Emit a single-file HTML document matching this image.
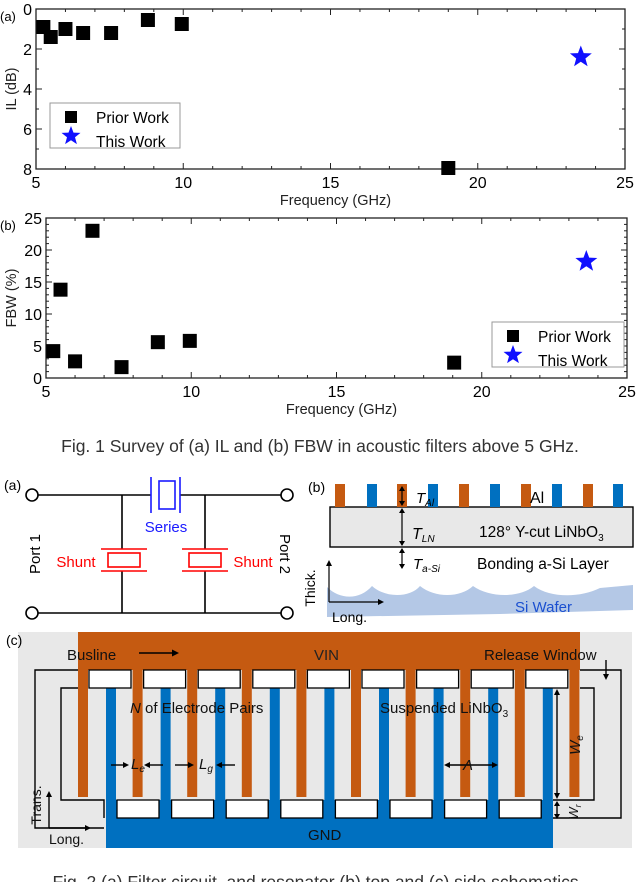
<!DOCTYPE html>
<html><head><meta charset="utf-8"><style>
html,body{margin:0;padding:0;background:#fff;}
body{width:640px;height:882px;overflow:hidden;position:relative;font-family:"Liberation Sans",sans-serif;}
svg{position:absolute;left:0;top:0;}
text{font-family:"Liberation Sans",sans-serif;}
</style></head><body>
<svg id="fig" width="640" height="882" viewBox="0 0 640 882" xmlns="http://www.w3.org/2000/svg">
<g id="chartA"></g>
<g id="chartB"></g>
<text x="320" y="452" font-size="17.5" text-anchor="middle" fill="#333">Fig. 1 Survey of (a) IL and (b) FBW in acoustic filters above 5 GHz.</text>

<!-- Circuit (a) -->
<g stroke="#000" stroke-width="1.6" fill="none">
<text x="4" y="490" font-size="14" fill="#000" stroke="none">(a)</text>
<line x1="38" y1="495" x2="151" y2="495"/><line x1="180" y1="495" x2="281" y2="495"/>
<line x1="38" y1="613" x2="281" y2="613"/>
<circle cx="32" cy="495" r="6" fill="#fff"/><circle cx="287" cy="495" r="6" fill="#fff"/>
<circle cx="32" cy="613" r="6" fill="#fff"/><circle cx="287" cy="613" r="6" fill="#fff"/>
<line x1="122" y1="495" x2="122" y2="549"/><line x1="122" y1="571" x2="122" y2="613"/>
<line x1="205" y1="495" x2="205" y2="549"/><line x1="205" y1="571" x2="205" y2="613"/>
<g stroke="#1a1aff">
<line x1="151" y1="477" x2="151" y2="513"/><line x1="180" y1="477" x2="180" y2="513"/>
<rect x="159" y="481" width="16" height="28"/></g>
<g stroke="#f00">
<line x1="101" y1="549" x2="147" y2="549"/><line x1="101" y1="571" x2="147" y2="571"/><rect x="108" y="553" width="32" height="14"/>
<line x1="182" y1="549" x2="228" y2="549"/><line x1="182" y1="571" x2="228" y2="571"/><rect x="189" y="553" width="32" height="14"/></g>
<text x="166" y="532" font-size="15" fill="#1a1aff" stroke="none" text-anchor="middle">Series</text>
<text x="76" y="567" font-size="15" fill="#f00" stroke="none" text-anchor="middle">Shunt</text>
<text x="253" y="567" font-size="15" fill="#f00" stroke="none" text-anchor="middle">Shunt</text>
<text transform="translate(40,554) rotate(-90)" font-size="15" fill="#000" stroke="none" text-anchor="middle">Port 1</text>
<text transform="translate(280,554) rotate(90)" font-size="15" fill="#000" stroke="none" text-anchor="middle">Port 2</text>
</g>

<!-- Cross-section (b) -->
<g>
<text x="308" y="492" font-size="14">(b)</text>
<path d="M327,587 C340,600 360,600 372,586 C385,598 410,598 420,586 C435,598 460,598 473,586 C490,598 520,598 534,586 C550,598 580,598 600,588 L633,585 L633,610 L500,614 L327,617 Z" fill="#b4c8e6"/>
<rect x="330" y="507" width="303" height="40" fill="#e8e8e8" stroke="#000" stroke-width="1.4"/>
<g id="elecs"></g>
<g stroke="#000" stroke-width="1.2" fill="none">
<line x1="402" y1="487" x2="402" y2="505"/><line x1="402" y1="509" x2="402" y2="545"/><line x1="402" y1="549" x2="402" y2="568"/>
<line x1="329" y1="602" x2="329" y2="562"/><line x1="329" y1="602" x2="381" y2="602"/>
</g>
<g fill="#000"><path d="M402,486 l-3,5 h6z"/><path d="M402,506 l-3,-5 h6z"/><path d="M402,508 l-3,5 h6z"/><path d="M402,546 l-3,-5 h6z"/><path d="M402,548 l-3,5 h6z"/><path d="M402,569 l-3,-5 h6z"/><path d="M329,560 l-3,6 h6z"/><path d="M384,602 l-6,-3 v6z"/></g>
<text x="416" y="503" font-size="15" font-style="italic">T<tspan font-size="10" dy="3">Al</tspan></text>
<text x="530" y="503" font-size="16">Al</text>
<text x="412" y="539" font-size="16" font-style="italic">T<tspan font-size="10" dy="3">LN</tspan></text>
<text x="479" y="537" font-size="15.5">128° Y-cut LiNbO<tspan font-size="10" dy="4">3</tspan></text>
<text x="413" y="569" font-size="15" font-style="italic">T<tspan font-size="10" dy="3">a-Si</tspan></text>
<text x="477" y="569" font-size="15.5">Bonding a-Si Layer</text>
<text transform="translate(315,588) rotate(-90)" font-size="14" text-anchor="middle">Thick.</text>
<text x="332" y="622" font-size="14">Long.</text>
<text x="515" y="612" font-size="15" fill="#1a4fd0">Si Wafer</text>
</g>

<!-- Resonator (c) -->
<g>
<rect x="18" y="632" width="614" height="216" fill="#e8e8e8"/>
<text x="6" y="645" font-size="14">(c)</text>
<rect x="78" y="632" width="502" height="38" fill="#c55a11"/>
<rect x="106" y="800" width="447" height="48" fill="#0070c0"/>
<g id="fingers"></g>
<g id="windows"></g>
<g stroke="#000" stroke-width="1.4" fill="none">
<path d="M78,670 H35 V828 H104"/><path d="M78,688 H61 V800 H104 V818"/>
<path d="M580,670 H621 V818 H553"/><path d="M580,688 H594 V800 H553"/>
<line x1="606" y1="660" x2="606" y2="676"/>
<line x1="139" y1="653" x2="173" y2="653"/>
<line x1="111" y1="765" x2="125" y2="765"/><line x1="148" y1="765" x2="163" y2="765"/>
<line x1="175" y1="765" x2="190" y2="765"/><line x1="220" y1="765" x2="235" y2="765"/>
<line x1="446" y1="765" x2="496" y2="765"/>
<line x1="557" y1="691" x2="557" y2="797"/><line x1="557" y1="803" x2="557" y2="817"/>
<line x1="49" y1="828" x2="49" y2="795"/><line x1="49" y1="828" x2="87" y2="828"/>
</g>
<g fill="#000"><path d="M606,680 l-3,-6 h6z"/><path d="M179,653 l-7,-3.5 v7z"/>
<path d="M129,765 l-6,-3 v6z"/><path d="M144,765 l6,-3 v6z"/><path d="M194,765 l-6,-3 v6z"/><path d="M216,765 l6,-3 v6z"/>
<path d="M444,765 l6,-3 v6z"/><path d="M498,765 l-6,-3 v6z"/>
<path d="M557,689 l-3,6 h6z"/><path d="M557,799 l-3,-6 h6z"/><path d="M557,801 l-3,5 h6z"/><path d="M557,819 l-3,-5 h6z"/>
<path d="M49,791 l-3,6 h6z"/><path d="M91,828 l-6,-3 v6z"/></g>
<g font-size="15" fill="#111">
<text x="67" y="660">Busline</text>
<text x="314" y="660" fill="#222">VIN</text>
<text x="484" y="660">Release Window</text>
<text x="130" y="713"><tspan font-style="italic">N</tspan> of Electrode Pairs</text>
<text x="380" y="713">Suspended LiNbO<tspan font-size="10" dy="4">3</tspan></text>
<text x="131" y="769" font-style="italic">L<tspan font-size="10" dy="3">e</tspan></text>
<text x="199" y="769" font-style="italic">L<tspan font-size="10" dy="3">g</tspan></text>
<text x="463" y="770" font-style="italic">Λ</text>
<text transform="translate(580,745) rotate(-90)" font-style="italic" text-anchor="middle">W<tspan font-size="10" dy="3">e</tspan></text>
<text transform="translate(578,812) rotate(-90)" font-size="13" font-style="italic" text-anchor="middle">W<tspan font-size="9" dy="3">r</tspan></text>
<text transform="translate(41,805) rotate(-90)" font-size="14" text-anchor="middle">Trans.</text>
<text x="49" y="844" font-size="14">Long.</text>
<text x="308" y="840">GND</text>
</g>
</g>
<text x="318" y="888" font-size="17.5" text-anchor="middle" fill="#333">Fig. 2 (a) Filter circuit, and resonator (b) top and (c) side schematics.</text>
</svg>
<script>
// ---- chart data ----
const ilPriorFreq = [5.25, 5.5, 6.0, 6.6, 7.55, 8.8, 9.95, 19.0];
const ilPriorVal = [0.9, 1.4, 1.0, 1.2, 1.2, 0.55, 0.75, 7.95];
const ilThisFreq = [23.5];
const ilThisVal = [2.4];
const ilTicks = [0, 2, 4, 6, 8];
const fbwPriorFreq = [5.25, 5.5, 6.6, 6.0, 7.6, 8.85, 9.95, 19.05];
const fbwPriorVal = [4.2, 13.8, 23.0, 2.6, 1.7, 5.6, 5.8, 2.4];
const fbwThisFreq = [23.6];
const fbwThisVal = [18.2];
const fbwTicks = [0, 5, 10, 15, 20, 25];
const freqTicks = [5, 10, 15, 20, 25];
const legendLabels = ["Prior Work", "This Work"];

const NS = "http://www.w3.org/2000/svg";
function mk(tag, attrs, parent) { const e = document.createElementNS(NS, tag); for (const k in attrs) e.setAttribute(k, attrs[k]); parent.appendChild(e); return e; }
function starPath(cx, cy, R) { const r = R * 0.42; let d = ""; for (let i = 0; i < 10; i++) { const a = -Math.PI / 2 + i * Math.PI / 5; const rr = i % 2 ? r : R; d += (i ? "L" : "M") + (cx + rr * Math.cos(a)).toFixed(1) + "," + (cy + rr * Math.sin(a)).toFixed(1); } return d + "Z"; }

function drawChart(g, o) {
  const sx = v => o.x0 + (v - 5) / 20 * (o.x1 - o.x0);
  const sy = v => o.inv ? o.y0 + (v - o.ymin) / (o.ymax - o.ymin) * (o.y1 - o.y0) : o.y1 - (v - o.ymin) / (o.ymax - o.ymin) * (o.y1 - o.y0);
  mk("rect", { x: o.x0, y: o.y0, width: o.x1 - o.x0, height: o.y1 - o.y0, fill: "none", stroke: "#222", "stroke-width": 1.3 }, g);
  for (let f = 5; f <= 25; f++) { const x = sx(f); const L = f % 5 === 0 ? 6 : 3;
    mk("line", { x1: x, y1: o.y1, x2: x, y2: o.y1 - L, stroke: "#222" }, g); mk("line", { x1: x, y1: o.y0, x2: x, y2: o.y0 + L, stroke: "#222" }, g); }
  freqTicks.forEach(t => { const e = mk("text", { x: sx(t), y: o.y1 + 19, "font-size": 16, "text-anchor": "middle" }, g); e.textContent = t;
      });
  const yt = o.ticks; const step = yt[1] - yt[0];
  for (let v = o.ymin; v <= o.ymax + 1e-9; v += step / (o.inv ? 2 : 5)) { const y = sy(v); const major = yt.some(t => Math.abs(t - v) < 1e-6); const L = major ? 6 : 3;
    mk("line", { x1: o.x0, y1: y, x2: o.x0 + L, y2: y, stroke: "#222" }, g); mk("line", { x1: o.x1, y1: y, x2: o.x1 - L, y2: y, stroke: "#222" }, g); }
  yt.forEach(t => { const e = mk("text", { x: o.x0 - 4, y: sy(t) + 6, "font-size": 16, "text-anchor": "end" }, g); e.textContent = t;
      });
  const xt = mk("text", { x: (o.x0 + o.x1) / 2 + 5, y: o.y1 + 36, "font-size": 14.5, "text-anchor": "middle", fill: "#222" }, g); xt.textContent = "Frequency  (GHz)";
   
  const yl = mk("text", { transform: `translate(${o.ylx},${(o.y0 + o.y1) / 2}) rotate(-90)`, "font-size": 14.5, "text-anchor": "middle", fill: "#222" }, g); yl.textContent = o.ytitle;
   
  const pl = mk("text", { x: o.plx, y: o.y0 + 12, "font-size": 13 }, g); pl.textContent = o.panel;
   
  o.pf.forEach((f, i) => { const r = mk("rect", { x: sx(f) - 7, y: sy(o.pv[i]) - 7, width: 14, height: 14, fill: "#000" }, g);
      });
  o.tf.forEach((f, i) => { const s = mk("path", { d: starPath(sx(f), sy(o.tv[i]), 11.5), fill: "#1010ff" }, g);
      });
  const lg = mk("g", {}, g);
   
  mk("rect", { x: o.lx, y: o.ly, width: o.lw, height: 45, fill: "#fff", stroke: "#999" }, lg);
  mk("rect", { x: o.lx + 15, y: o.ly + 8, width: 12, height: 12, fill: "#000" }, lg);
  mk("path", { d: starPath(o.lx + 21, o.ly + 33, 10), fill: "#1010ff" }, lg);
  legendLabels.forEach((l, i) => { const t = mk("text", { x: o.lx + 46, y: o.ly + 20 + i * 24, "font-size": 15.5 }, lg); t.textContent = l;
      });
}
drawChart(document.getElementById("chartA"), { x0: 36, x1: 625, y0: 9, y1: 169, ymin: 0, ymax: 8, inv: true, ticks: ilTicks, ytitle: "IL  (dB)", ylx: 16, plx: 0, panel: "(a)",
  pf: ilPriorFreq, pv: ilPriorVal, tf: ilThisFreq, tv: ilThisVal, lx: 50, ly: 103, lw: 130 });
drawChart(document.getElementById("chartB"), { x0: 46, x1: 627, y0: 218, y1: 378, ymin: 0, ymax: 25, inv: false, ticks: fbwTicks, ytitle: "FBW  (%)", ylx: 16, plx: 0, panel: "(b)",
  pf: fbwPriorFreq, pv: fbwPriorVal, tf: fbwThisFreq, tv: fbwThisVal, lx: 492, ly: 322, lw: 132 });

// cross-section electrodes
const el = document.getElementById("elecs");
const elecX = [335, 367, 397, 428, 459, 490, 521, 552, 583, 613];
elecX.forEach((x, i) => { const r = mk("rect", { x: x, y: 484, width: 10, height: 23, fill: i % 2 ? "#0070c0" : "#c55a11" }, el);
    });
// fingers
const fg = document.getElementById("fingers");
for (let i = 0; i < 10; i++) { const r = mk("rect", { x: 78 + i * 54.6, y: 668, width: 10, height: 129, fill: "#c55a11" }, fg);
    }
for (let i = 0; i < 9; i++) { const r = mk("rect", { x: 106 + i * 54.6, y: 688, width: 10, height: 115, fill: "#0070c0" }, fg);
    }
const wg = document.getElementById("windows");
for (let i = 0; i < 9; i++) { const r = mk("rect", { x: 89 + i * 54.6, y: 670, width: 42, height: 18, fill: "#fff", stroke: "#000", "stroke-width": 1.3 }, wg);
    }
for (let i = 0; i < 8; i++) { const r = mk("rect", { x: 117 + i * 54.6, y: 800, width: 42, height: 18, fill: "#fff", stroke: "#000", "stroke-width": 1.3 }, wg);
    }
</script>
</body></html>
